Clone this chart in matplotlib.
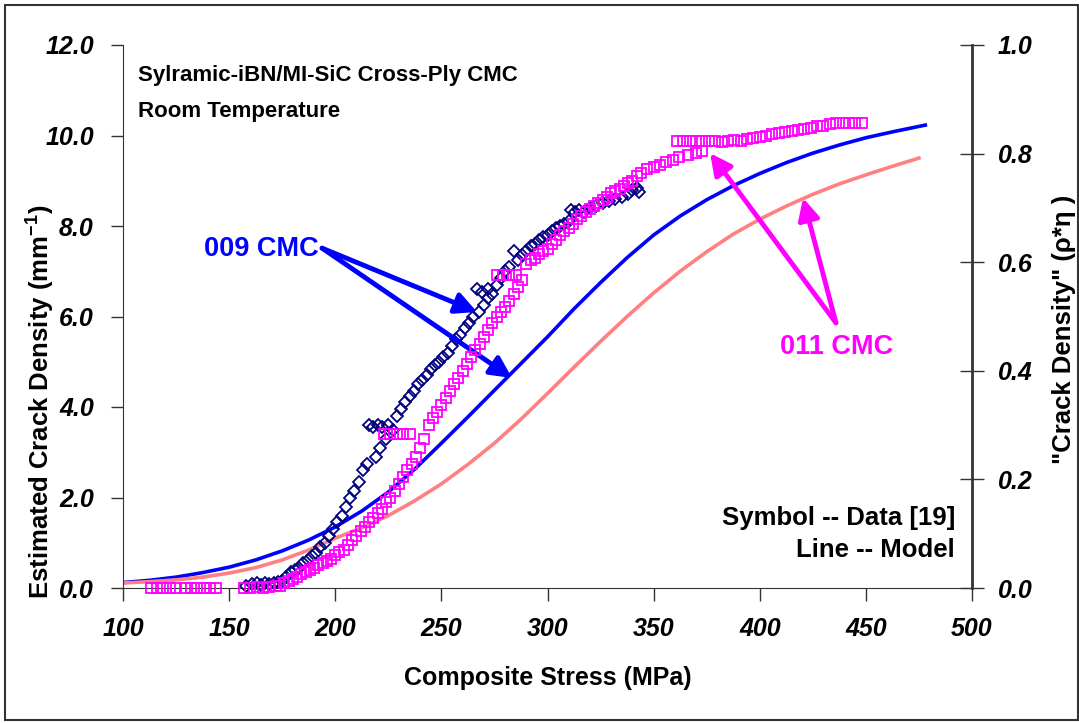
import numpy as np
import matplotlib.pyplot as plt
from matplotlib.patches import Rectangle

plt.rcParams['font.family'] = ['Liberation Sans', 'DejaVu Sans']
plt.rcParams['mathtext.fontset'] = 'custom'
plt.rcParams['mathtext.rm'] = 'Liberation Sans:bold'
plt.rcParams['mathtext.bf'] = 'Liberation Sans:bold'

# model curves (lines)
model009_x = [100, 112.5, 125, 137.5, 150, 162.5, 175, 187.5, 200, 212.5, 225, 237.5, 250, 262.5,
              275, 287.5, 300, 312.5, 325, 337.5, 350, 362.5, 375, 387.5, 400, 412.5, 425, 437.5,
              450, 462.5, 478]
model009_y = [0.12, 0.17, 0.24, 0.34, 0.46, 0.62, 0.82, 1.06, 1.35, 1.7, 2.12, 2.63, 3.2, 3.78,
              4.37, 4.96, 5.55, 6.17, 6.75, 7.3, 7.8, 8.22, 8.58, 8.89, 9.16, 9.4, 9.61, 9.79,
              9.95, 10.08, 10.23]
model011_x = [100, 112.5, 125, 137.5, 150, 162.5, 175, 187.5, 200, 212.5, 225, 237.5, 250, 262.5,
              275, 287.5, 300, 312.5, 325, 337.5, 350, 362.5, 375, 387.5, 400, 412.5, 425, 437.5,
              450, 462.5, 475]
model011_y = [0.11, 0.14, 0.18, 0.24, 0.33, 0.45, 0.62, 0.84, 1.1, 1.33, 1.6, 1.93, 2.3, 2.73,
              3.2, 3.73, 4.3, 4.88, 5.45, 6.0, 6.52, 7.0, 7.43, 7.82, 8.15, 8.44, 8.7, 8.93,
              9.13, 9.32, 9.5]

# measured data (symbols)
data009_x = [158, 161, 163, 165, 167, 169, 171, 173, 175, 177, 179, 181, 183, 185, 187, 189,
             191, 193, 195, 197, 199, 201, 203, 205, 207, 209, 211, 213, 215, 216, 218, 219,
             220, 221, 222, 224, 225, 227, 229, 231, 233, 235, 237, 239, 241, 243, 245, 247,
             249, 251, 253, 255, 257, 259, 261, 263, 265, 267, 269, 267.5, 270, 272, 272, 274,
             276, 278, 280, 282, 284, 286, 288, 290, 292, 294, 296, 298, 300, 302, 304, 306,
             308, 310, 311, 313, 315, 317, 320, 323, 326, 329, 332, 335, 338, 340, 342, 343]
data009_y = [0.05, 0.08, 0.1, 0.06, 0.12, 0.08, 0.1, 0.13, 0.15, 0.25, 0.35, 0.4, 0.45, 0.55, 0.62, 0.7,
             0.78, 0.9, 1.0, 1.15, 1.3, 1.45, 1.6, 1.8, 2.0, 2.15, 2.35, 2.6, 2.75, 3.6, 3.55, 2.9,
             3.6, 3.1, 3.55, 3.3, 3.6, 3.5, 3.8, 3.95, 4.1, 4.25, 4.35, 4.5, 4.6, 4.7, 4.85, 4.92,
             5.0, 5.1, 5.2, 5.35, 5.5, 5.6, 5.75, 5.85, 6.0, 6.6, 6.55, 6.1, 6.25, 6.6, 6.4, 6.5,
             6.7, 6.85, 7.0, 7.1, 7.45, 7.25, 7.35, 7.45, 7.55, 7.6, 7.7, 7.75, 7.8, 7.9, 7.95, 8.0,
             8.05, 8.1, 8.35, 8.3, 8.35, 8.3, 8.4, 8.45, 8.5, 8.55, 8.6, 8.65, 8.7, 8.8, 8.85, 8.75]

data011_x = [113, 116, 119, 122, 125, 129, 132, 135, 138, 141, 144,
             157, 160, 163, 166, 169, 172, 174, 176, 178, 180, 182, 184, 186, 188, 190, 192,
             194, 196, 198, 200, 202, 204, 206, 208, 210, 212, 214, 216, 218, 220, 222, 224,
             226, 228, 230, 232, 234, 236, 238, 240, 223, 226, 229, 232, 235,
             242, 244, 246, 248, 250, 252, 254, 256, 258, 260, 262, 264, 266, 268, 270, 272,
             274, 276, 278, 280, 282, 284, 286, 288, 276, 279, 282, 285,
             290, 292, 294, 296, 298, 300, 302, 304, 306, 308, 310, 312, 314, 316, 318, 320,
             322, 324, 326, 328, 330, 332, 334, 336, 338, 340, 342, 344, 347, 350, 353, 356,
             359, 362, 366, 370, 373, 361, 364, 367, 370, 373, 376, 379,
             382, 385, 388, 391, 394, 397, 400, 403, 406, 409, 412, 415, 418, 421, 424, 427,
             430, 433, 436, 439, 442, 445, 448]
data011_y = [0, 0, 0, 0, 0, 0, 0, 0, 0, 0, 0,
             0, 0, 0.02, 0, 0.03, 0.05, 0.05, 0.1, 0.15, 0.2, 0.25, 0.3, 0.35, 0.4, 0.45, 0.5,
             0.55, 0.6, 0.65, 0.72, 0.8, 0.85, 0.95, 1.05, 1.15, 1.25, 1.35, 1.45, 1.55, 1.65, 1.75, 1.9,
             2.0, 2.15, 2.3, 2.45, 2.6, 2.75, 2.9, 3.1, 3.4, 3.4, 3.4, 3.4, 3.4,
             3.3, 3.6, 3.75, 3.9, 4.05, 4.2, 4.35, 4.5, 4.65, 4.8, 4.95, 5.1, 5.25, 5.4, 5.55, 5.7,
             5.85, 6.0, 6.1, 6.2, 6.35, 6.5, 6.65, 6.8, 6.92, 6.92, 6.92, 6.92,
             7.15, 7.25, 7.3, 7.38, 7.45, 7.5, 7.6, 7.7, 7.8, 7.88, 7.95, 8.05, 8.15, 8.22, 8.3, 8.38,
             8.45, 8.5, 8.58, 8.65, 8.72, 8.78, 8.82, 8.88, 8.95, 9.0, 9.1, 9.18, 9.25, 9.3, 9.35, 9.42,
             9.46, 9.52, 9.57, 9.62, 9.66, 9.88, 9.88, 9.88, 9.88, 9.88, 9.88, 9.88,
             9.85, 9.87, 9.9, 9.88, 9.92, 9.94, 9.96, 10.0, 10.04, 10.06, 10.08, 10.1, 10.12, 10.15, 10.17, 10.2,
             10.22, 10.25, 10.27, 10.28, 10.28, 10.28, 10.27]

xticks = [100, 150, 200, 250, 300, 350, 400, 450, 500]
yticks_left = [0, 2, 4, 6, 8, 10, 12]
yticks_right = [0, 0.2, 0.4, 0.6, 0.8, 1.0]

fig = plt.figure(figsize=(10.79, 7.23), dpi=100)
W, H = 1079, 723
ax = fig.add_axes([123 / W, 1 - 588 / H, (972 - 123) / W, (588 - 45) / H])

ax.plot(model009_x, model009_y, color='#0000FF', lw=2.6, zorder=2)
ax.plot(model011_x, model011_y, color='#FF8080', lw=2.6, zorder=2)
ax.plot(data009_x, data009_y, ls='none', marker='D', ms=6, mfc='none', mec='#000080',
        mew=1.3, zorder=3, clip_on=False)
ax.plot(data011_x, data011_y, ls='none', marker='s', ms=7.5, mfc='none', mec='#FF00FF',
        mew=1.3, zorder=4, clip_on=False)

ax.set_xlim(100, 500)
ax.set_ylim(0, 12)
ax.set_xticks(xticks)
ax.set_yticks(yticks_left)
ax.set_xticklabels([str(v) for v in xticks])
ax.set_yticklabels(['%.1f' % v for v in yticks_left])
ax.spines['top'].set_visible(False)
ax.spines['right'].set_visible(False)
for s in ['left', 'bottom']:
    ax.spines[s].set_color('#333333')
ax.tick_params(axis='both', direction='out', length=9, width=1, pad=12, color='#333333')
for lab in ax.get_xticklabels() + ax.get_yticklabels():
    lab.set_fontsize(18)
    lab.set_fontweight('bold')
    lab.set_fontstyle('italic')

ax2 = ax.twinx()
ax2.set_ylim(0, 1)
ax2.set_yticks(yticks_right)
ax2.set_yticklabels(['%.1f' % v for v in yticks_right])
ax2.spines['top'].set_visible(False)
ax2.spines['left'].set_visible(False)
ax2.spines['bottom'].set_visible(False)
ax2.spines['right'].set_linewidth(2)
ax2.spines['right'].set_color('#333333')
ax2.tick_params(axis='y', direction='inout', length=17, width=1, pad=10, color='#333333')
for lab in ax2.get_yticklabels():
    lab.set_fontsize(18)
    lab.set_fontweight('bold')
    lab.set_fontstyle('italic')

fig.text(548 / W, 1 - 678 / H, 'Composite Stress (MPa)', ha='center', va='center',
         fontsize=18, fontweight='bold')
fig.text(40 / W, 1 - 402 / H, 'Estimated Crack Density (mm$^{\\mathbf{-1}}$)', ha='center',
         va='center', rotation=90, fontsize=18.5, fontweight='bold')
fig.text(1064 / W, 1 - 329 / H, '"Crack Density" (\u03c1*\u03b7 )', ha='center', va='center',
         rotation=90, fontsize=18.5, fontweight='bold')

ax.text((138 - 123) / 849, 1 - (76 - 45) / 543, 'Sylramic-iBN/MI-SiC Cross-Ply CMC',
        transform=ax.transAxes, ha='left', va='center', fontsize=16, fontweight='bold')
ax.text((138 - 123) / 849, 1 - (111 - 45) / 543, 'Room Temperature',
        transform=ax.transAxes, ha='left', va='center', fontsize=16, fontweight='bold')
ax.text((955 - 123) / 849, 1 - (518 - 45) / 543, 'Symbol -- Data [19]',
        transform=ax.transAxes, ha='right', va='center', fontsize=18.5, fontweight='bold')
ax.text((955 - 123) / 849, 1 - (550 - 45) / 543, 'Line -- Model',
        transform=ax.transAxes, ha='right', va='center', fontsize=18.5, fontweight='bold')

arrow_blue = dict(arrowstyle='-|>', color='#0000FF', lw=3.5, mutation_scale=32, shrinkA=0, shrinkB=0)
ax.text(192, 7.5, '009 CMC', ha='right', va='center', color='#0000FF', fontsize=19.5, fontweight='bold')
ax.annotate('', xy=(266.8, 6.1), xytext=(193.8, 7.51), arrowprops=arrow_blue)
ax.annotate('', xy=(283.3, 4.64), xytext=(193.8, 7.51), arrowprops=arrow_blue)

arrow_mag = dict(arrowstyle='-|>', color='#FF00FF', lw=3.5, mutation_scale=32, shrinkA=0, shrinkB=0)
ax.text(436, 5.33, '011 CMC', ha='center', va='center', color='#FF00FF', fontsize=19.5, fontweight='bold')
ax.annotate('', xy=(376.6, 9.61), xytext=(435.9, 5.86), arrowprops=arrow_mag)
ax.annotate('', xy=(420.4, 8.62), xytext=(435.9, 5.86), arrowprops=arrow_mag)

fig.patches.append(Rectangle((5 / W, 1 - 720 / H), (1078 - 5) / W, (720 - 5) / H,
                             transform=fig.transFigure, fill=False, lw=1.5, ec='#333333'))

fig.savefig('out.png', dpi=100)
